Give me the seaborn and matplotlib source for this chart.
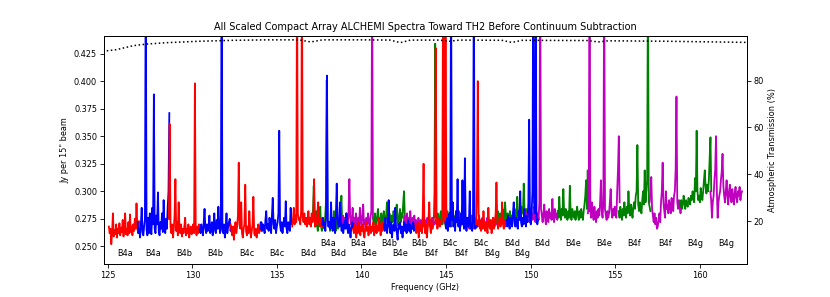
import numpy as np
import pandas as pd
import seaborn as sns
import matplotlib.pyplot as plt

# spectral window centres (GHz), per band: r, b, g, m windows
bands = ["B4a", "B4b", "B4c", "B4d", "B4e", "B4f", "B4g"]
centres_r = [126.00, 129.55, 133.20, 136.84, 140.44, 144.13, 147.72]
centres_b = [127.70, 131.37, 134.97, 138.61, 142.26, 145.90, 149.51]
centres_g = [138.02, 141.63, 145.25, 148.90, 152.54, 156.15, 159.75]
centres_m = [139.79, 143.44, 147.08, 150.69, 154.33, 157.98, 161.57]
spw_width = 1.875

# flux per channel, mJy per 15" beam
flux_r = {
    "B4a": [268, 262, 266, 252, 263, 280, 259, 265, 261, 270, 258, 266, 262, 271, 260, 267, 263, 274, 259, 268,
            280, 261, 266, 260, 272, 262, 279, 263, 268, 260, 270, 264, 275, 266, 289, 268, 262, 273, 265, 270],
    "B4b": [275, 361, 268, 262, 270, 258, 266, 278, 311, 264, 272, 260, 290, 266, 262, 270, 259, 266, 262, 268,
            276, 260, 266, 262, 270, 258, 265, 268, 261, 266, 270, 262, 398, 266, 260, 268, 262, 270, 264, 268],
    "B4c": [270, 264, 260, 268, 256, 266, 272, 262, 268, 278, 326, 270, 266, 290, 262, 258, 266, 270, 306, 264,
            260, 268, 262, 282, 266, 258, 264, 270, 295, 262, 260, 266, 258, 264, 270, 262, 266, 272, 264, 268],
    "B4d": [268, 274, 285, 270, 278, 272, 500, 280, 274, 276, 270, 282, 500, 276, 272, 280, 270, 276, 268, 274,
            282, 270, 276, 268, 280, 272, 276, 311, 268, 274, 270, 280, 290, 272, 268, 276, 270, 274, 268, 272],
    "B4e": [266, 262, 270, 264, 258, 268, 262, 272, 266, 260, 268, 264, 270, 262, 258, 266, 272, 264, 268, 260,
            266, 270, 262, 268, 264, 272, 260, 266, 270, 262, 268, 264, 276, 266, 260, 270, 264, 272, 266, 270],
    "B4f": [270, 262, 266, 272, 258, 268, 264, 270, 262, 280, 325, 268, 262, 270, 258, 266, 274, 290, 268, 262,
            270, 266, 272, 280, 300, 430, 272, 266, 270, 276, 268, 274, 270, 280, 500, 276, 272, 500, 278, 274],
    "B4g": [270, 300, 400, 280, 268, 274, 264, 272, 266, 282, 270, 264, 272, 268, 262, 285, 270, 266, 274, 262,
            270, 276, 266, 272, 280, 308, 272, 266, 270, 276, 268, 272, 290, 270, 266, 274, 268, 272, 270, 276],
}
flux_b = {
    "B4a": [272, 262, 266, 258, 270, 285, 263, 260, 268, 275, 500, 265, 260, 276, 262, 280, 264, 261, 285, 270,
            388, 266, 262, 278, 270, 299, 264, 260, 272, 266, 280, 263, 292, 268, 262, 275, 266, 285, 300, 371],
    "B4b": [266, 262, 270, 264, 260, 272, 284, 266, 262, 270, 264, 268, 278, 262, 266, 272, 260, 268, 280, 264,
            262, 274, 266, 286, 270, 262, 268, 500, 264, 262, 270, 258, 266, 280, 262, 268, 272, 275, 264, 268],
    "B4c": [266, 272, 264, 270, 268, 262, 274, 282, 266, 270, 264, 276, 268, 262, 278, 294, 270, 266, 274, 262,
            268, 272, 280, 355, 270, 264, 272, 262, 270, 276, 268, 291, 266, 262, 272, 268, 264, 285, 270, 274],
    "B4d": [270, 276, 268, 272, 264, 280, 405, 274, 268, 272, 266, 290, 270, 264, 276, 268, 262, 280, 307, 276,
            270, 268, 290, 272, 264, 270, 262, 268, 274, 266, 280, 268, 262, 270, 264, 258, 268, 272, 266, 270],
    "B4e": [270, 264, 276, 266, 262, 270, 292, 268, 262, 272, 258, 266, 270, 264, 285, 268, 262, 256, 270, 266,
            272, 262, 268, 258, 266, 272, 264, 270, 262, 268, 274, 264, 270, 262, 268, 266, 272, 264, 270, 268],
    "B4f": [272, 266, 276, 264, 270, 280, 268, 500, 274, 290, 268, 276, 264, 282, 272, 311, 268, 274, 264, 280,
            270, 310, 272, 266, 330, 270, 264, 276, 268, 272, 300, 266, 270, 264, 276, 500, 270, 266, 272, 268],
    "B4g": [274, 268, 278, 270, 266, 276, 272, 268, 280, 290, 274, 268, 276, 270, 266, 282, 274, 300, 272, 268,
            276, 270, 284, 274, 268, 278, 272, 290, 365, 276, 270, 280, 300, 500, 290, 280, 500, 276, 270, 274],
}
flux_g = {
    "B4a": [272, 280, 305, 276, 268, 282, 270, 264, 276, 270, 286, 268, 264, 274, 270, 266, 276, 290, 401, 274,
            268, 272, 264, 270, 276, 266, 272, 282, 268, 264, 270, 276, 266, 272, 268, 280, 296, 272, 268, 274],
    "B4b": [276, 270, 280, 274, 268, 278, 284, 272, 276, 270, 280, 274, 268, 282, 276, 272, 278, 290, 274, 270,
            280, 276, 268, 278, 272, 282, 276, 270, 280, 288, 274, 270, 278, 284, 272, 280, 276, 290, 300, 276],
    "B4c": [276, 434, 278, 272, 280, 274, 270, 278, 282, 274, 270, 276, 280, 272, 268, 276, 282, 274, 270, 278,
            272, 268, 276, 280, 274, 270, 278, 272, 276, 270, 282, 274, 268, 276, 272, 280, 274, 270, 276, 272],
    "B4d": [278, 272, 282, 276, 270, 280, 274, 278, 284, 276, 272, 290, 278, 274, 280, 272, 276, 282, 274, 278,
            270, 280, 276, 284, 278, 272, 295, 280, 276, 282, 274, 278, 286, 280, 307, 282, 278, 284, 276, 280],
    "B4e": [282, 276, 295, 280, 274, 284, 278, 302, 280, 276, 284, 278, 274, 282, 276, 305, 280, 274, 284, 278,
            276, 282, 274, 280, 286, 278, 274, 282, 276, 284, 278, 274, 282, 288, 296, 310, 284, 319, 288, 282],
    "B4f": [282, 276, 286, 280, 274, 284, 278, 290, 280, 276, 286, 280, 300, 284, 278, 288, 282, 276, 286, 290,
            284, 296, 300, 342, 288, 282, 290, 284, 280, 292, 300, 288, 319, 290, 300, 310, 500, 290, 286, 282],
    "B4g": [290, 286, 292, 284, 288, 296, 290, 284, 292, 288, 286, 294, 290, 288, 296, 292, 300, 294, 290, 312,
            300, 355, 300, 292, 296, 290, 303, 296, 292, 300, 310, 319, 304, 298, 306, 300, 310, 330, 349, 300],
}
flux_m = {
    "B4a": [272, 278, 268, 276, 270, 280, 272, 268, 282, 311, 276, 270, 274, 285, 268, 276, 270, 280, 272, 266,
            276, 270, 285, 274, 268, 278, 288, 270, 274, 266, 276, 270, 280, 272, 268, 276, 282, 500, 276, 272],
    "B4b": [272, 278, 268, 274, 280, 270, 276, 268, 282, 272, 266, 276, 270, 278, 268, 274, 270, 264, 276, 270,
            268, 274, 266, 272, 278, 268, 274, 270, 266, 276, 270, 272, 268, 274, 270, 276, 268, 272, 270, 274],
    "B4c": [270, 274, 268, 276, 272, 266, 274, 270, 278, 268, 272, 266, 276, 270, 274, 268, 272, 278, 266, 272,
            270, 276, 268, 274, 270, 266, 272, 276, 270, 268, 274, 270, 266, 272, 276, 270, 268, 274, 270, 272],
    "B4d": [280, 276, 284, 278, 272, 282, 276, 280, 274, 286, 278, 272, 282, 276, 280, 274, 290, 500, 284, 278,
            272, 280, 288, 276, 270, 282, 278, 272, 284, 276, 280, 274, 293, 278, 272, 284, 276, 280, 274, 282],
    "B4e": [280, 290, 500, 284, 276, 290, 280, 274, 286, 278, 272, 282, 276, 284, 278, 290, 310, 282, 276, 290,
            500, 284, 278, 274, 282, 276, 280, 290, 302, 282, 276, 284, 278, 286, 280, 276, 300, 320, 350, 290],
    "B4f": [290, 300, 313, 284, 278, 272, 280, 270, 276, 266, 268, 274, 280, 272, 290, 300, 326, 290, 282, 276,
            300, 284, 288, 280, 292, 286, 280, 294, 288, 282, 296, 300, 320, 386, 290, 284, 292, 286, 280, 288],
    "B4g": [300, 292, 276, 290, 296, 310, 320, 350, 300, 276, 290, 296, 300, 310, 318, 334, 305, 296, 290, 300,
            310, 296, 288, 300, 306, 294, 290, 302, 296, 288, 298, 304, 294, 290, 300, 296, 304, 292, 298, 300],
}

# atmospheric transmission (%)
trans_freq = [124.7, 125.5, 126.5, 127.3, 128.5, 130.4, 132.4, 134.5, 136.3, 137.0, 137.7, 140.0, 141.7, 142.3,
              142.9, 144.6, 145.2, 145.8, 148.3, 148.9, 149.5, 153.4, 154.0, 154.6, 158.0, 162.9]
trans_pct = [92.5, 93.2, 94.9, 95.6, 96.2, 96.8, 97.2, 97.4, 97.4, 96.5, 97.4, 97.4, 97.3, 96.2,
             97.3, 97.3, 96.8, 97.3, 97.2, 96.3, 97.2, 97.1, 96.5, 97.0, 96.8, 96.3]

plt.rcParams["font.family"] = ["DejaVu Sans"]
fs = 5.9

fig, ax = plt.subplots(figsize=(8.3, 2.97), dpi=100)
fig.subplots_adjust(left=0.125, right=0.9, top=0.88, bottom=0.11)

colours = {"r": "red", "b": "blue", "g": "green", "m": "m"}
for i, band in enumerate(bands):
    for key, centres, fluxes, label_y in [("r", centres_r, flux_r, 0.2437), ("b", centres_b, flux_b, 0.2437),
                                          ("g", centres_g, flux_g, 0.2528), ("m", centres_m, flux_m, 0.2528)]:
        c = centres[i]
        vals = np.array(fluxes[band]) / 1000.0
        # channel frequencies across the spectral window
        freq = np.linspace(c - spw_width / 2, c + spw_width / 2, len(vals))
        df = pd.DataFrame({"freq": freq, "flux": vals})
        sns.lineplot(data=df, x="freq", y="flux", ax=ax, color=colours[key], lw=1.3,
                     sort=False, estimator=None)
        ax.text(c, label_y, band, ha="center", va="center", fontsize=fs)

ax.set_xlim(124.76, 162.8)
ax.set_ylim(0.2337, 0.4413)
ax.set_xticks([125, 130, 135, 140, 145, 150, 155, 160])
ax.set_yticks([0.250, 0.275, 0.300, 0.325, 0.350, 0.375, 0.400, 0.425])
ax.set_xlabel("Frequency (GHz)", fontsize=fs, labelpad=2)
ax.set_ylabel('Jy per 15" beam', fontsize=fs, labelpad=3)
ax.set_title("All Scaled Compact Array ALCHEMI Spectra Toward TH2 Before Continuum Subtraction", fontsize=7, pad=4)
ax.tick_params(labelsize=fs, length=2.8, width=0.6, pad=2)

ax2 = ax.twinx()
sns.lineplot(x=trans_freq, y=trans_pct, ax=ax2, color="black", lw=1.1, linestyle=":")
ax2.set_ylim(1.5, 99.2)
ax2.set_yticks([20, 40, 60, 80])
ax2.set_ylabel("Atmospheric Transmission (%)", fontsize=fs, labelpad=3)
ax2.tick_params(labelsize=fs, length=2.8, width=0.6, pad=2)
for a in (ax, ax2):
    for s in a.spines.values():
        s.set_linewidth(0.7)

fig.savefig("out.png", dpi=100)
